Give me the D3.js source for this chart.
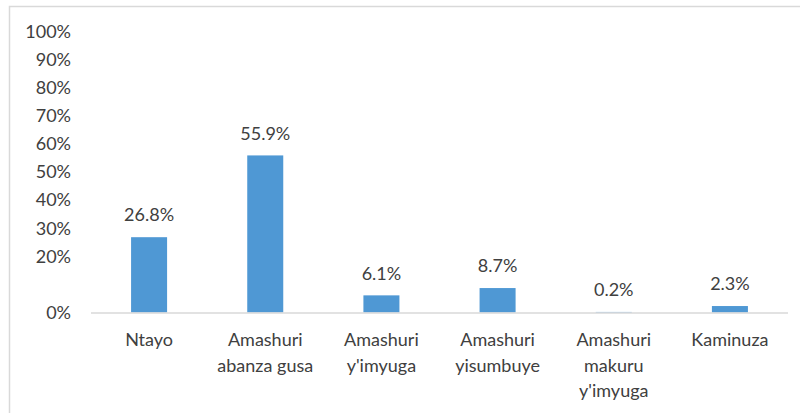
<!DOCTYPE html>
<html><head><meta charset="utf-8">
<script src="https://cdn.jsdelivr.net/npm/d3@7"></script>
<style>body{margin:0;background:#fff;} svg{display:block;}</style>
</head><body>
<svg id="c" width="800" height="413"></svg>
<script>
const categories = [["Ntayo"],["Amashuri","abanza gusa"],["Amashuri","y'imyuga"],["Amashuri","yisumbuye"],["Amashuri","makuru","y'imyuga"],["Kaminuza"]];
const values = [26.8, 55.9, 6.1, 8.7, 0.2, 2.3];
const tickValues = [0, 20, 30, 40, 50, 60, 70, 80, 90, 100];

const svg = d3.select("#c");
const font = "Lato, sans-serif";
const fs = 18;
// frame
svg.append("path").attr("d","M9.5,420 V6.5 H800").attr("fill","none").attr("stroke","#d9d9d9").attr("stroke-width",1.5);

const x = d3.scaleBand().domain(d3.range(categories.length)).range([91, 788]).paddingInner(0.69).paddingOuter(0.345);
const y = d3.scaleLinear().domain([0, 100]).range([312.5, 31.5]);

// y tick labels
svg.append("g").selectAll("text").data(tickValues).join("text")
  .attr("x", 71).attr("y", d => y(d)).attr("dy","0.35em")
  .attr("text-anchor","end").attr("font-family",font).attr("font-size",fs).attr("fill","#404040")
  .text(d => d + "%");

// bars
svg.append("g").selectAll("rect").data(values).join("rect")
  .attr("x",(d,i)=>x(i)).attr("width",x.bandwidth())
  .attr("y",d=>y(d)).attr("height",d=>y(0)-y(d)).attr("fill","#4f98d4");

// axis line
svg.append("line").attr("x1",91).attr("x2",788).attr("y1",y(0)+0.5).attr("y2",y(0)+0.5).attr("stroke","#d9d9d9").attr("stroke-width",1.5);

// data labels
svg.append("g").selectAll("text").data(values).join("text")
  .attr("x",(d,i)=>x(i)+x.bandwidth()/2).attr("y",d=>y(d)-22).attr("dy","0.35em")
  .attr("text-anchor","middle").attr("font-family",font).attr("font-size",fs).attr("fill","#404040")
  .text(d=>d.toFixed(1)+"%");

// category labels
const cg = svg.append("g").selectAll("text").data(categories).join("text")
  .attr("text-anchor","middle").attr("font-family",font).attr("font-size",fs).attr("fill","#404040");
cg.each(function(lines,i){
  d3.select(this).selectAll("tspan").data(lines).join("tspan")
    .attr("x", x(i)+x.bandwidth()/2).attr("y",(l,j)=>340+j*25.5).attr("dy","0.35em").text(l=>l);
});
</script>
</body></html>
